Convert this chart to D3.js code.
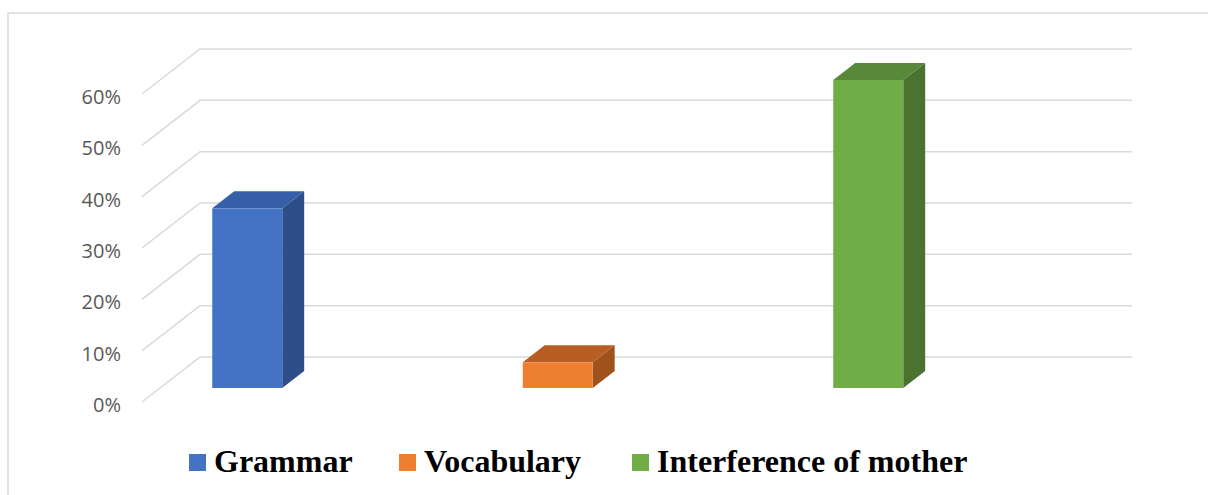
<!DOCTYPE html>
<html lang="en">
<head>
<meta charset="utf-8">
<title>Errors chart</title>
<script src="https://d3js.org/d3.v7.min.js"></script>
<style>
  body { margin: 0; background: #fff; }
  svg { display: block; }
</style>
</head>
<body>
<svg id="chart" width="1208" height="495"></svg>
<script>
const categories = ["Grammar", "Vocabulary", "Interference of mother"];
const values = [0.35, 0.05, 0.60];
const ticks = [0, 0.1, 0.2, 0.3, 0.4, 0.5, 0.6];
const tickLabels = ["0%", "10%", "20%", "30%", "40%", "50%", "60%"];

const colors = [
  { front: "#4472C4", top: "#3560A8", side: "#2D4E88" },
  { front: "#ED7D31", top: "#B95E22", side: "#A0521C" },
  { front: "#70AD47", top: "#58893A", side: "#4A7230" }
];

const svg = d3.select("#chart");

// chart frame
svg.append("path")
  .attr("d", "M8,496 L8,13 L1210,13")
  .attr("fill", "none")
  .attr("stroke", "#d9d9d9")
  .attr("stroke-width", 1.5);

// front plane of the floor: 0% at y=402, x starts at 142
const y = d3.scaleLinear().domain([0, 0.6]).range([402, 94]);
const ux = 1.29, uy = -1;          // depth direction (per px of depth)
const wallDepth = 45, barOffset = 14, barDepth = 17;
const frontX = 142, backRight = 1132;

// gridlines: diagonal on the side wall + horizontal on the back wall
const grid = svg.append("g").attr("stroke", "#d9d9d9").attr("stroke-width", 1.5).attr("fill", "none");
ticks.forEach(t => {
  const y0 = y(t);
  const bx = frontX + ux * wallDepth, by = y0 + uy * wallDepth;
  grid.append("path").attr("d", `M${frontX},${y0} L${bx},${by} L${backRight},${by}`);
});

// y labels
svg.append("g").selectAll("text")
  .data(ticks).enter().append("text")
  .attr("x", 121)
  .attr("y", d => y(d) + 10)
  .attr("text-anchor", "end")
  .attr("font-family", "'Open Sans', sans-serif")
  .attr("font-size", 20)
  .attr("fill", "#595959")
  .text((d, i) => tickLabels[i]);

// bars
const x = d3.scaleBand().domain(categories).range([92, 1023.5]);
const barW = 70;
const dx = ux * barOffset, dy = uy * barOffset;     // bar front plane shift
const bdx = ux * barDepth, bdy = uy * barDepth;     // bar depth

const bars = svg.append("g").selectAll("g")
  .data(categories).enter().append("g");

bars.each(function (c, i) {
  const g = d3.select(this);
  const x0 = x(c) + (x.bandwidth() - barW) / 2 + frontX - 142;
  const x1 = x0 + barW;
  const yb = y(0) + dy;
  const yt = y(values[i]) + dy;
  g.append("polygon")
    .attr("points", [[x1, yt], [x1 + bdx, yt + bdy], [x1 + bdx, yb + bdy], [x1, yb]].join(" "))
    .attr("fill", colors[i].side);
  g.append("polygon")
    .attr("points", [[x0, yt], [x1, yt], [x1 + bdx, yt + bdy], [x0 + bdx, yt + bdy]].join(" "))
    .attr("fill", colors[i].top);
  g.append("rect")
    .attr("x", x0).attr("y", yt)
    .attr("width", barW).attr("height", yb - yt)
    .attr("fill", colors[i].front);
});

// legend
const legendX = [189, 399, 632];
const legend = svg.append("g").selectAll("g")
  .data(categories).enter().append("g")
  .attr("transform", (d, i) => `translate(${legendX[i]},0)`);
legend.append("rect")
  .attr("x", 0).attr("y", 454)
  .attr("width", 17).attr("height", 17)
  .attr("fill", (d, i) => colors[i].front);
legend.append("text")
  .attr("x", 25).attr("y", 472)
  .attr("font-family", "'Liberation Serif', 'Times New Roman', serif")
  .attr("font-weight", "bold")
  .attr("font-size", 32)
  .attr("fill", "#000")
  .text(d => d);
</script>
</body>
</html>
